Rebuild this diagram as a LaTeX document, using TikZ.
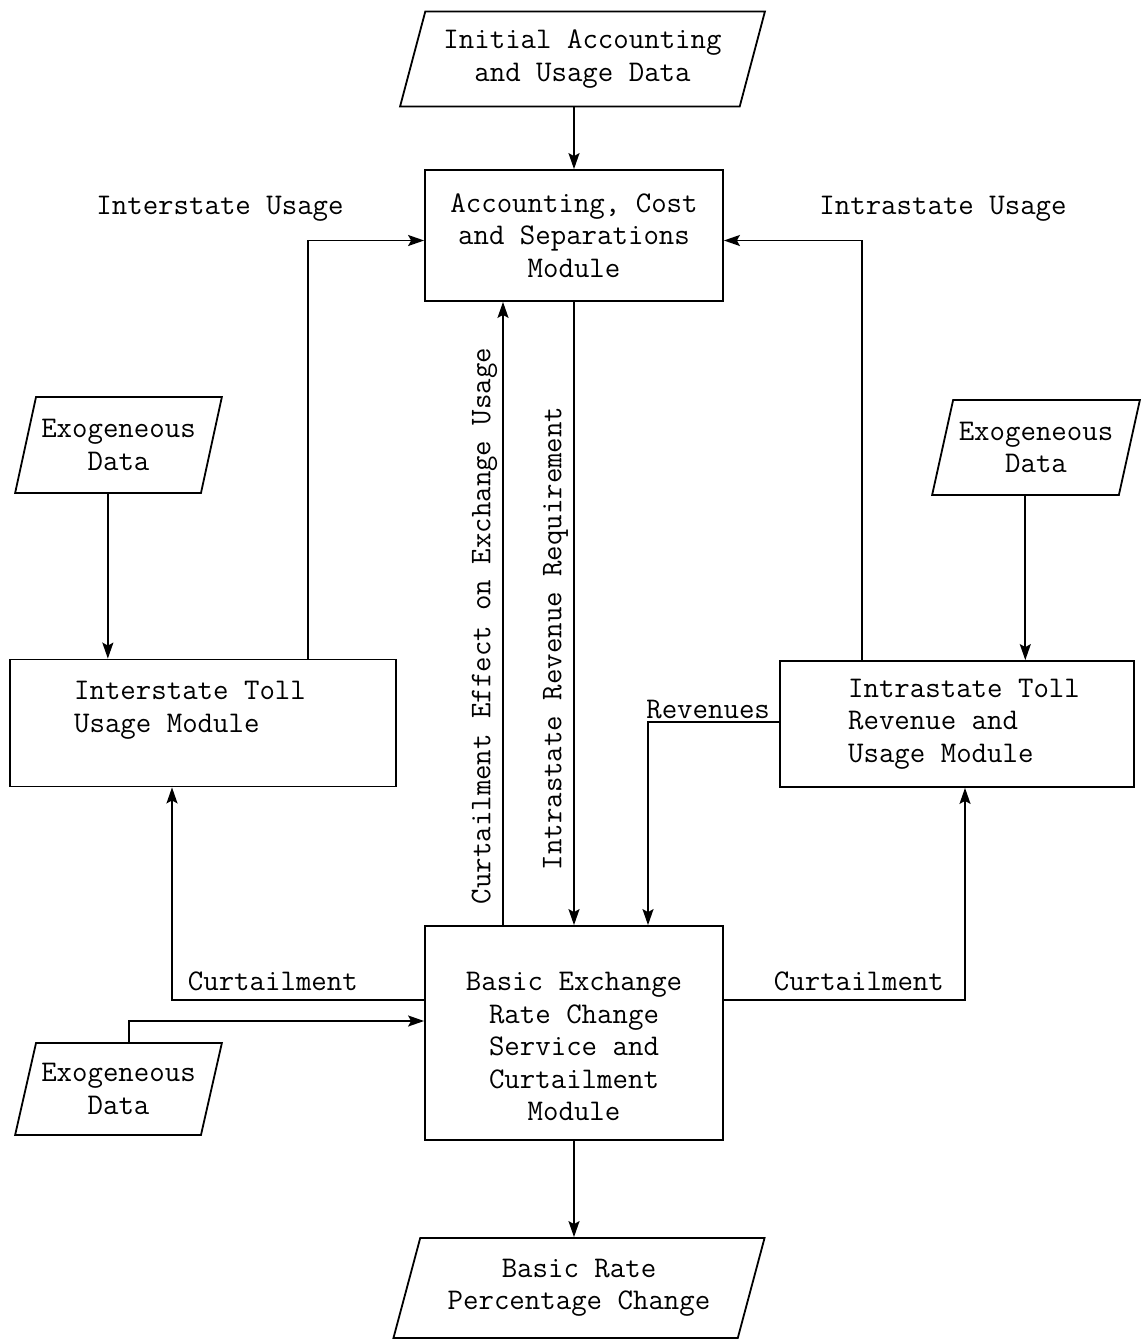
\documentclass[tikz,border=0pt]{standalone}
\usepackage{fontspec}
\usetikzlibrary{shapes.geometric,arrows.meta,calc}
\begin{document}
\begin{tikzpicture}[x=1pt,y=-1pt,
  every node/.style={font=\fontsize{30}{32.5}\selectfont\ttfamily},
  box/.style={draw, line width=1.8pt, rectangle, inner sep=0pt, align=center},
  para/.style={draw, line width=1.8pt, trapezium, trapezium left angle=69, trapezium right angle=111, trapezium stretches=true, inner sep=0pt, align=center},
  conn/.style={line width=1.7pt},
  arr/.style={conn, -{Stealth[length=16pt,width=11pt,inset=3pt]}},
]
\useasboundingbox (0,0) rectangle (1143,1339);

\node[para, minimum width=365pt, minimum height=95pt] (init) at (582.5,59) {Initial Accounting\\and Usage Data};
\node[box, minimum width=298pt, minimum height=131pt] (acs) at (574,235.5) {Accounting, Cost\\and Separations\\Module};
\node[para, minimum width=207pt, minimum height=96pt] (exoL) at (118.5,445) {Exogeneous\\Data};
\node[para, minimum width=208pt, minimum height=95pt] (exoR) at (1036,447.5) {Exogeneous\\Data};
\node[box, minimum width=386pt, minimum height=127pt, align=left] (inter) at (203,723) {Interstate Toll\hspace*{26pt}\\Usage Module\\\mbox{}};
\node[box, minimum width=354pt, minimum height=126pt, align=left] (intra) at (957,724) {\hspace{14pt}Intrastate Toll\\\hspace{14pt}Revenue and\\\hspace{14pt}Usage Module};
\node[box, minimum width=298pt, minimum height=214pt] (berc) at (574,1033) {\mbox{}\\[13.5pt]Basic Exchange\\Rate Change\\Service and\\Curtailment\\Module};
\node[para, minimum width=207pt, minimum height=92pt] (exoB) at (118.5,1089) {Exogeneous\\Data};
\node[para, minimum width=372pt, minimum height=100pt] (rate) at (579,1288) {Basic Rate\\Percentage Change};

\node (interU) at (220,209) {Interstate Usage};
\node (intraU) at (943,209) {Intrastate Usage};
\node[anchor=south east, inner sep=3pt] (rev) at ([xshift=-6pt,yshift=2pt]intra.west) {Revenues};

\draw[arr] (init.south -| acs.north) -- (acs.north);
\draw[arr] ([xshift=105pt]inter.north) |- ([yshift=-5pt]acs.west);
\draw[arr] ([xshift=-95pt]intra.north) |- ([yshift=-5pt]acs.east);
\draw[arr] (exoL.bottom side) -- (exoL.bottom side |- inter.north);
\draw[arr] (exoR.bottom side) -- (exoR.bottom side |- intra.north);
\draw[arr] (exoB.top side) |- ([yshift=12pt]berc.west);
\draw[arr] ([yshift=2pt]intra.west) -| ([xshift=74pt]berc.north);
\draw[arr] ([xshift=-71pt]berc.north) -- ([xshift=-71pt]acs.south)
  node[pos=0.48, rotate=90, anchor=south, inner sep=5pt] {Curtailment Effect on Exchange Usage};
\draw[arr] (acs.south) -- (berc.north)
  node[pos=0.54, rotate=90, anchor=south, inner sep=5pt] {Intrastate Revenue Requirement};
\draw[arr] ([yshift=33pt]berc.west) -| ([xshift=-31pt]inter.south)
  node[pos=0.3, above, inner sep=8pt] {Curtailment};
\draw[arr] ([yshift=33pt]berc.east) -| ([xshift=8pt]intra.south)
  node[pos=0.28, above, inner sep=8pt] {Curtailment};
\draw[arr] (berc.south) -- (berc.south |- rate.north);
\end{tikzpicture}
\end{document}
